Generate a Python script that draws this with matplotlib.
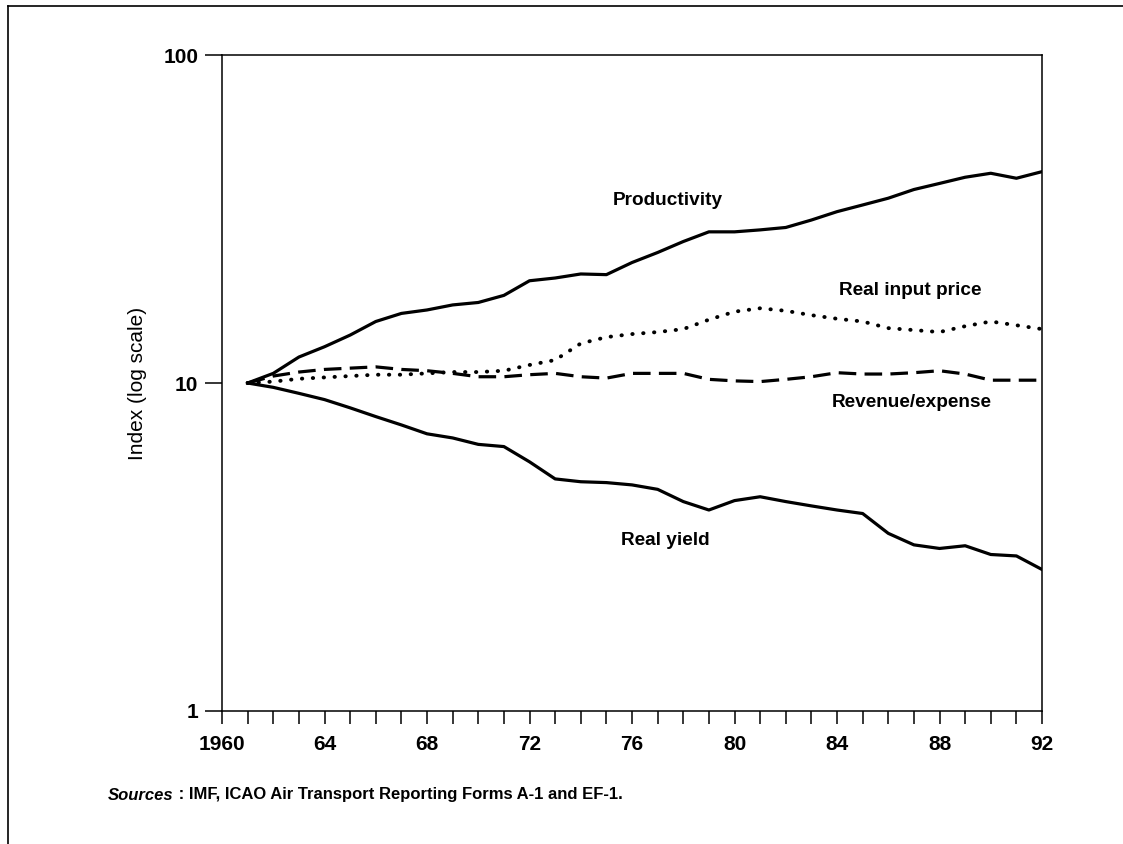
import matplotlib
matplotlib.use("Agg")
import matplotlib.pyplot as plt
from matplotlib.lines import Line2D
from matplotlib.ticker import FixedLocator, NullLocator

plt.rcParams['font.family'] = ['Liberation Sans', 'DejaVu Sans']

# Index values, 1961 = 10, log scale
years = list(range(1961, 1993))
productivity = [10.0, 10.7, 12.0, 12.9, 14.0, 15.4, 16.3, 16.7, 17.3, 17.6,
                18.5, 20.5, 20.9, 21.5, 21.4, 23.3, 25.0, 27.0, 28.9, 28.9,
                29.3, 29.8, 31.4, 33.3, 34.9, 36.6, 38.9, 40.6, 42.4, 43.6,
                42.1, 44.1]
real_input_price = [10.0, 10.1, 10.3, 10.4, 10.5, 10.6, 10.6, 10.7, 10.8, 10.8,
                    10.9, 11.35, 11.75, 13.2, 13.8, 14.1, 14.3, 14.6, 15.6, 16.5,
                    16.9, 16.6, 16.1, 15.7, 15.4, 14.7, 14.5, 14.3, 14.9, 15.4,
                    15.0, 14.6]
revenue_expense = [10.0, 10.5, 10.8, 11.0, 11.1, 11.2, 11.0, 10.9, 10.7, 10.45,
                   10.45, 10.6, 10.7, 10.45, 10.35, 10.7, 10.7, 10.7, 10.26, 10.15,
                   10.1, 10.26, 10.45, 10.75, 10.65, 10.65, 10.75, 10.9, 10.65, 10.2,
                   10.2, 10.2]
real_yield = [10.0, 9.7, 9.3, 8.9, 8.4, 7.9, 7.45, 7.0, 6.8, 6.5,
              6.4, 5.75, 5.1, 5.0, 4.97, 4.89, 4.74, 4.35, 4.1, 4.38,
              4.5, 4.35, 4.22, 4.1, 4.0, 3.48, 3.21, 3.13, 3.19, 3.0,
              2.97, 2.7]

xtick_pos = [1960, 1964, 1968, 1972, 1976, 1980, 1984, 1988, 1992]
xtick_labels = ["1960", "64", "68", "72", "76", "80", "84", "88", "92"]
ytick_pos = [1, 10, 100]
ytick_labels = ["1", "10", "100"]

fig = plt.figure(figsize=(11.23, 8.44), dpi=100)
ax = fig.add_axes([0.1977, 0.1576, 0.7302, 0.7772])

ax.plot(years, productivity, color="black", lw=2.3, solid_joinstyle="round")
ax.plot(years, real_yield, color="black", lw=2.3, solid_joinstyle="round")
ax.plot(years, real_input_price, color="black", lw=2.8,
        linestyle=(0, (0.1, 2.7)), dash_capstyle="round")
ax.plot(years, revenue_expense, color="black", lw=2.3,
        linestyle=(0, (5.5, 2.6)))

ax.set_yscale("log")
ax.set_xlim(1960, 1992)
ax.set_ylim(1, 100)

ax.xaxis.set_major_locator(FixedLocator(xtick_pos))
ax.xaxis.set_minor_locator(FixedLocator([y for y in range(1960, 1993) if y not in xtick_pos]))
ax.set_xticklabels(xtick_labels, fontsize=15, fontweight="bold")
ax.yaxis.set_major_locator(FixedLocator(ytick_pos))
ax.yaxis.set_minor_locator(NullLocator())
ax.set_yticklabels(ytick_labels, fontsize=15, fontweight="bold")

ax.tick_params(axis="x", which="both", direction="out", length=9.5, width=1.1, pad=8)
ax.tick_params(axis="y", which="major", direction="out", length=12, width=1.1, pad=5)
for s in ax.spines.values():
    s.set_linewidth(1.1)

ax.set_ylabel("Index (log scale)", fontsize=15, labelpad=12)

label_kw = dict(fontsize=13.7, fontweight="bold", ha="center", va="center")
ax.text(1977.4, 36.1, "Productivity", **label_kw)
ax.text(1986.85, 19.2, "Real input price", **label_kw)
ax.text(1986.9, 8.75, "Revenue/expense", **label_kw)
ax.text(1977.3, 3.32, "Real yield", **label_kw)

# source note: italic word, then the rest placed right after it
src_y = 1 - 795 / 844
t1 = fig.text(108 / 1123, src_y, "Sources", fontsize=12, fontweight="bold",
              style="italic", va="center", ha="left")
fig.canvas.draw()
bb = t1.get_window_extent(renderer=fig.canvas.get_renderer())
fig.text(bb.x1 / fig.bbox.width, src_y, " : IMF, ICAO Air Transport Reporting Forms A-1 and EF-1.",
         fontsize=12, fontweight="bold", va="center", ha="left")

# outer frame (left and top edges)
fig.add_artist(Line2D([0.0071, 0.0071], [0, 0.9929], color="black", lw=1.2,
                      transform=fig.transFigure))
fig.add_artist(Line2D([0.0071, 1.0], [0.9929, 0.9929], color="black", lw=1.2,
                      transform=fig.transFigure))

fig.savefig("out.png", dpi=100)
